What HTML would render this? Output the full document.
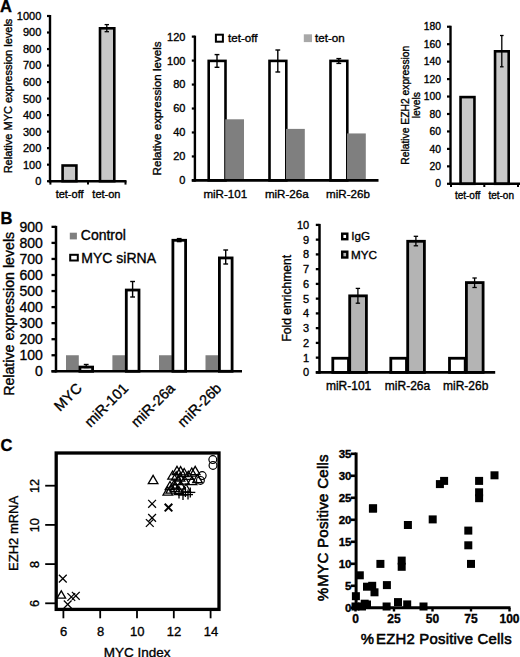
<!DOCTYPE html>
<html><head><meta charset="utf-8"><style>
html,body{margin:0;padding:0;background:#fff;width:520px;height:657px;overflow:hidden}
svg{display:block;font-family:"Liberation Sans", sans-serif}
</style></head><body>
<svg width="520" height="657" viewBox="0 0 520 657">
<rect width="520" height="657" fill="#fff"/>
<text x="0.00" y="12.30" font-size="16.5" text-anchor="start" font-weight="bold" stroke="#000" stroke-width="0.35" fill="#000">A</text>
<text x="0.50" y="223.60" font-size="16.5" text-anchor="start" font-weight="bold" stroke="#000" stroke-width="0.35" fill="#000">B</text>
<text x="0.50" y="450.60" font-size="16.5" text-anchor="start" font-weight="bold" stroke="#000" stroke-width="0.35" fill="#000">C</text>
<line x1="47.00" y1="181.20" x2="50.00" y2="181.20" stroke="#000" stroke-width="2.2"/>
<text x="41.30" y="185.10" font-size="11" text-anchor="end" font-weight="normal" stroke="#000" stroke-width="0.35" fill="#000">0</text>
<line x1="47.00" y1="164.68" x2="50.00" y2="164.68" stroke="#000" stroke-width="2.2"/>
<text x="41.30" y="168.58" font-size="11" text-anchor="end" font-weight="normal" stroke="#000" stroke-width="0.35" fill="#000">100</text>
<line x1="47.00" y1="148.16" x2="50.00" y2="148.16" stroke="#000" stroke-width="2.2"/>
<text x="41.30" y="152.06" font-size="11" text-anchor="end" font-weight="normal" stroke="#000" stroke-width="0.35" fill="#000">200</text>
<line x1="47.00" y1="131.64" x2="50.00" y2="131.64" stroke="#000" stroke-width="2.2"/>
<text x="41.30" y="135.54" font-size="11" text-anchor="end" font-weight="normal" stroke="#000" stroke-width="0.35" fill="#000">300</text>
<line x1="47.00" y1="115.12" x2="50.00" y2="115.12" stroke="#000" stroke-width="2.2"/>
<text x="41.30" y="119.02" font-size="11" text-anchor="end" font-weight="normal" stroke="#000" stroke-width="0.35" fill="#000">400</text>
<line x1="47.00" y1="98.60" x2="50.00" y2="98.60" stroke="#000" stroke-width="2.2"/>
<text x="41.30" y="102.50" font-size="11" text-anchor="end" font-weight="normal" stroke="#000" stroke-width="0.35" fill="#000">500</text>
<line x1="47.00" y1="82.08" x2="50.00" y2="82.08" stroke="#000" stroke-width="2.2"/>
<text x="41.30" y="85.98" font-size="11" text-anchor="end" font-weight="normal" stroke="#000" stroke-width="0.35" fill="#000">600</text>
<line x1="47.00" y1="65.56" x2="50.00" y2="65.56" stroke="#000" stroke-width="2.2"/>
<text x="41.30" y="69.46" font-size="11" text-anchor="end" font-weight="normal" stroke="#000" stroke-width="0.35" fill="#000">700</text>
<line x1="47.00" y1="49.04" x2="50.00" y2="49.04" stroke="#000" stroke-width="2.2"/>
<text x="41.30" y="52.94" font-size="11" text-anchor="end" font-weight="normal" stroke="#000" stroke-width="0.35" fill="#000">800</text>
<line x1="47.00" y1="32.52" x2="50.00" y2="32.52" stroke="#000" stroke-width="2.2"/>
<text x="41.30" y="36.42" font-size="11" text-anchor="end" font-weight="normal" stroke="#000" stroke-width="0.35" fill="#000">900</text>
<line x1="47.00" y1="16.00" x2="50.00" y2="16.00" stroke="#000" stroke-width="2.2"/>
<text x="41.30" y="19.90" font-size="11" text-anchor="end" font-weight="normal" stroke="#000" stroke-width="0.35" fill="#000">1000</text>
<line x1="50.40" y1="181.20" x2="50.40" y2="184.60" stroke="#000" stroke-width="2.0"/>
<line x1="88.00" y1="181.20" x2="88.00" y2="184.60" stroke="#000" stroke-width="2.0"/>
<line x1="125.50" y1="181.20" x2="125.50" y2="184.60" stroke="#000" stroke-width="2.0"/>
<rect x="62.60" y="165.50" width="13.80" height="15.70" fill="#c8c8c8" stroke="#000" stroke-width="2.6"/>
<rect x="100.00" y="28.30" width="14.30" height="152.90" fill="#c8c8c8" stroke="#000" stroke-width="2.6"/>
<line x1="106.80" y1="24.60" x2="106.80" y2="31.70" stroke="#000" stroke-width="1.3"/>
<line x1="104.60" y1="24.60" x2="109.00" y2="24.60" stroke="#000" stroke-width="1.3"/>
<line x1="104.60" y1="31.70" x2="109.00" y2="31.70" stroke="#000" stroke-width="1.3"/>
<text x="69.60" y="197.60" font-size="11" text-anchor="middle" font-weight="normal" stroke="#000" stroke-width="0.35" fill="#000">tet-off</text>
<text x="106.40" y="197.60" font-size="11" text-anchor="middle" font-weight="normal" stroke="#000" stroke-width="0.35" fill="#000">tet-on</text>
<text x="12.20" y="96.00" font-size="11" text-anchor="middle" font-weight="normal" transform="rotate(-90 12.20 96.00)" stroke="#000" stroke-width="0.35" fill="#000">Relative MYC expression levels</text>
<line x1="191.80" y1="180.40" x2="194.90" y2="180.40" stroke="#000" stroke-width="2.2"/>
<text x="185.40" y="184.30" font-size="11" text-anchor="end" font-weight="normal" stroke="#000" stroke-width="0.35" fill="#000">0</text>
<line x1="191.80" y1="156.44" x2="194.90" y2="156.44" stroke="#000" stroke-width="2.2"/>
<text x="185.40" y="160.34" font-size="11" text-anchor="end" font-weight="normal" stroke="#000" stroke-width="0.35" fill="#000">20</text>
<line x1="191.80" y1="132.48" x2="194.90" y2="132.48" stroke="#000" stroke-width="2.2"/>
<text x="185.40" y="136.38" font-size="11" text-anchor="end" font-weight="normal" stroke="#000" stroke-width="0.35" fill="#000">40</text>
<line x1="191.80" y1="108.52" x2="194.90" y2="108.52" stroke="#000" stroke-width="2.2"/>
<text x="185.40" y="112.42" font-size="11" text-anchor="end" font-weight="normal" stroke="#000" stroke-width="0.35" fill="#000">60</text>
<line x1="191.80" y1="84.56" x2="194.90" y2="84.56" stroke="#000" stroke-width="2.2"/>
<text x="185.40" y="88.46" font-size="11" text-anchor="end" font-weight="normal" stroke="#000" stroke-width="0.35" fill="#000">80</text>
<line x1="191.80" y1="60.60" x2="194.90" y2="60.60" stroke="#000" stroke-width="2.2"/>
<text x="185.40" y="64.50" font-size="11" text-anchor="end" font-weight="normal" stroke="#000" stroke-width="0.35" fill="#000">100</text>
<line x1="191.80" y1="36.64" x2="194.90" y2="36.64" stroke="#000" stroke-width="2.2"/>
<text x="185.40" y="40.54" font-size="11" text-anchor="end" font-weight="normal" stroke="#000" stroke-width="0.35" fill="#000">120</text>
<rect x="208.70" y="60.90" width="16.80" height="119.50" fill="#fff" stroke="#000" stroke-width="2.6"/>
<rect x="225.20" y="119.30" width="18.80" height="61.10" fill="#7f7f7f"/>
<line x1="217.00" y1="54.60" x2="217.00" y2="67.30" stroke="#000" stroke-width="1.4"/>
<line x1="214.60" y1="54.60" x2="219.40" y2="54.60" stroke="#000" stroke-width="1.4"/>
<line x1="214.60" y1="67.30" x2="219.40" y2="67.30" stroke="#000" stroke-width="1.4"/>
<rect x="269.50" y="60.90" width="16.80" height="119.50" fill="#fff" stroke="#000" stroke-width="2.6"/>
<rect x="286.00" y="128.89" width="18.80" height="51.51" fill="#7f7f7f"/>
<line x1="277.80" y1="50.00" x2="277.80" y2="72.00" stroke="#000" stroke-width="1.4"/>
<line x1="275.40" y1="50.00" x2="280.20" y2="50.00" stroke="#000" stroke-width="1.4"/>
<line x1="275.40" y1="72.00" x2="280.20" y2="72.00" stroke="#000" stroke-width="1.4"/>
<rect x="330.50" y="60.90" width="16.80" height="119.50" fill="#fff" stroke="#000" stroke-width="2.6"/>
<rect x="347.00" y="133.44" width="18.80" height="46.96" fill="#7f7f7f"/>
<line x1="338.80" y1="58.60" x2="338.80" y2="63.40" stroke="#000" stroke-width="1.4"/>
<line x1="336.40" y1="58.60" x2="341.20" y2="58.60" stroke="#000" stroke-width="1.4"/>
<line x1="336.40" y1="63.40" x2="341.20" y2="63.40" stroke="#000" stroke-width="1.4"/>
<text x="225.30" y="197.50" font-size="11.6" text-anchor="middle" font-weight="normal" stroke="#000" stroke-width="0.35" fill="#000">miR-101</text>
<text x="286.80" y="197.50" font-size="11.6" text-anchor="middle" font-weight="normal" stroke="#000" stroke-width="0.35" fill="#000">miR-26a</text>
<text x="348.00" y="197.50" font-size="11.6" text-anchor="middle" font-weight="normal" stroke="#000" stroke-width="0.35" fill="#000">miR-26b</text>
<rect x="215.90" y="34.70" width="7.00" height="7.00" fill="#fff" stroke="#000" stroke-width="2.0"/>
<text x="228.00" y="42.30" font-size="11.6" text-anchor="start" font-weight="normal" stroke="#000" stroke-width="0.35" fill="#000">tet-off</text>
<rect x="303.80" y="34.30" width="8.20" height="7.80" fill="#a8a8a8"/>
<text x="315.00" y="42.30" font-size="11.6" text-anchor="start" font-weight="normal" stroke="#000" stroke-width="0.35" fill="#000">tet-on</text>
<text x="161.40" y="108.40" font-size="11.6" text-anchor="middle" font-weight="normal" transform="rotate(-90 161.40 108.40)" stroke="#000" stroke-width="0.35" fill="#000">Relative expression levels</text>
<line x1="447.00" y1="183.80" x2="450.50" y2="183.80" stroke="#000" stroke-width="2.2"/>
<text x="441.00" y="187.40" font-size="10.3" text-anchor="end" font-weight="normal" stroke="#000" stroke-width="0.35" fill="#000">0</text>
<line x1="447.00" y1="166.35" x2="450.50" y2="166.35" stroke="#000" stroke-width="2.2"/>
<text x="441.00" y="169.95" font-size="10.3" text-anchor="end" font-weight="normal" stroke="#000" stroke-width="0.35" fill="#000">20</text>
<line x1="447.00" y1="148.90" x2="450.50" y2="148.90" stroke="#000" stroke-width="2.2"/>
<text x="441.00" y="152.50" font-size="10.3" text-anchor="end" font-weight="normal" stroke="#000" stroke-width="0.35" fill="#000">40</text>
<line x1="447.00" y1="131.45" x2="450.50" y2="131.45" stroke="#000" stroke-width="2.2"/>
<text x="441.00" y="135.05" font-size="10.3" text-anchor="end" font-weight="normal" stroke="#000" stroke-width="0.35" fill="#000">60</text>
<line x1="447.00" y1="114.00" x2="450.50" y2="114.00" stroke="#000" stroke-width="2.2"/>
<text x="441.00" y="117.60" font-size="10.3" text-anchor="end" font-weight="normal" stroke="#000" stroke-width="0.35" fill="#000">80</text>
<line x1="447.00" y1="96.55" x2="450.50" y2="96.55" stroke="#000" stroke-width="2.2"/>
<text x="441.00" y="100.15" font-size="10.3" text-anchor="end" font-weight="normal" stroke="#000" stroke-width="0.35" fill="#000">100</text>
<line x1="447.00" y1="79.10" x2="450.50" y2="79.10" stroke="#000" stroke-width="2.2"/>
<text x="441.00" y="82.70" font-size="10.3" text-anchor="end" font-weight="normal" stroke="#000" stroke-width="0.35" fill="#000">120</text>
<line x1="447.00" y1="61.65" x2="450.50" y2="61.65" stroke="#000" stroke-width="2.2"/>
<text x="441.00" y="65.25" font-size="10.3" text-anchor="end" font-weight="normal" stroke="#000" stroke-width="0.35" fill="#000">140</text>
<line x1="447.00" y1="44.20" x2="450.50" y2="44.20" stroke="#000" stroke-width="2.2"/>
<text x="441.00" y="47.80" font-size="10.3" text-anchor="end" font-weight="normal" stroke="#000" stroke-width="0.35" fill="#000">160</text>
<line x1="447.00" y1="26.75" x2="450.50" y2="26.75" stroke="#000" stroke-width="2.2"/>
<text x="441.00" y="30.35" font-size="10.3" text-anchor="end" font-weight="normal" stroke="#000" stroke-width="0.35" fill="#000">180</text>
<line x1="451.00" y1="183.80" x2="451.00" y2="187.00" stroke="#000" stroke-width="2.0"/>
<line x1="484.30" y1="183.80" x2="484.30" y2="187.00" stroke="#000" stroke-width="2.0"/>
<line x1="518.00" y1="183.80" x2="518.00" y2="187.00" stroke="#000" stroke-width="2.0"/>
<rect x="460.55" y="97.10" width="13.90" height="86.70" fill="#c8c8c8" stroke="#000" stroke-width="2.6"/>
<rect x="495.05" y="51.30" width="13.65" height="132.50" fill="#c8c8c8" stroke="#000" stroke-width="2.6"/>
<line x1="501.80" y1="35.50" x2="501.80" y2="66.80" stroke="#000" stroke-width="1.3"/>
<line x1="500.00" y1="35.50" x2="503.60" y2="35.50" stroke="#000" stroke-width="1.3"/>
<line x1="500.00" y1="66.80" x2="503.60" y2="66.80" stroke="#000" stroke-width="1.3"/>
<text x="467.60" y="199.40" font-size="10" text-anchor="middle" font-weight="normal" stroke="#000" stroke-width="0.35" fill="#000">tet-off</text>
<text x="501.20" y="199.40" font-size="10" text-anchor="middle" font-weight="normal" stroke="#000" stroke-width="0.35" fill="#000">tet-on</text>
<text x="409.20" y="105.20" font-size="10.3" text-anchor="middle" font-weight="normal" transform="rotate(-90 409.20 105.20)" stroke="#000" stroke-width="0.35" fill="#000">Relative EZH2 expression</text>
<text x="419.70" y="105.20" font-size="10.3" text-anchor="middle" font-weight="normal" transform="rotate(-90 419.70 105.20)" stroke="#000" stroke-width="0.35" fill="#000">levels</text>
<line x1="51.50" y1="371.30" x2="56.00" y2="371.30" stroke="#000" stroke-width="2.3"/>
<text x="42.80" y="376.30" font-size="14" text-anchor="end" font-weight="normal" stroke="#000" stroke-width="0.35" fill="#000">0</text>
<line x1="51.50" y1="355.25" x2="56.00" y2="355.25" stroke="#000" stroke-width="2.3"/>
<text x="42.80" y="360.25" font-size="14" text-anchor="end" font-weight="normal" stroke="#000" stroke-width="0.35" fill="#000">100</text>
<line x1="51.50" y1="339.20" x2="56.00" y2="339.20" stroke="#000" stroke-width="2.3"/>
<text x="42.80" y="344.20" font-size="14" text-anchor="end" font-weight="normal" stroke="#000" stroke-width="0.35" fill="#000">200</text>
<line x1="51.50" y1="323.15" x2="56.00" y2="323.15" stroke="#000" stroke-width="2.3"/>
<text x="42.80" y="328.15" font-size="14" text-anchor="end" font-weight="normal" stroke="#000" stroke-width="0.35" fill="#000">300</text>
<line x1="51.50" y1="307.10" x2="56.00" y2="307.10" stroke="#000" stroke-width="2.3"/>
<text x="42.80" y="312.10" font-size="14" text-anchor="end" font-weight="normal" stroke="#000" stroke-width="0.35" fill="#000">400</text>
<line x1="51.50" y1="291.05" x2="56.00" y2="291.05" stroke="#000" stroke-width="2.3"/>
<text x="42.80" y="296.05" font-size="14" text-anchor="end" font-weight="normal" stroke="#000" stroke-width="0.35" fill="#000">500</text>
<line x1="51.50" y1="275.00" x2="56.00" y2="275.00" stroke="#000" stroke-width="2.3"/>
<text x="42.80" y="280.00" font-size="14" text-anchor="end" font-weight="normal" stroke="#000" stroke-width="0.35" fill="#000">600</text>
<line x1="51.50" y1="258.95" x2="56.00" y2="258.95" stroke="#000" stroke-width="2.3"/>
<text x="42.80" y="263.95" font-size="14" text-anchor="end" font-weight="normal" stroke="#000" stroke-width="0.35" fill="#000">700</text>
<line x1="51.50" y1="242.90" x2="56.00" y2="242.90" stroke="#000" stroke-width="2.3"/>
<text x="42.80" y="247.90" font-size="14" text-anchor="end" font-weight="normal" stroke="#000" stroke-width="0.35" fill="#000">800</text>
<line x1="51.50" y1="226.85" x2="56.00" y2="226.85" stroke="#000" stroke-width="2.3"/>
<text x="42.80" y="231.85" font-size="14" text-anchor="end" font-weight="normal" stroke="#000" stroke-width="0.35" fill="#000">900</text>
<rect x="66.00" y="355.25" width="12.80" height="16.05" fill="#7f7f7f"/>
<rect x="79.90" y="367.08" width="12.70" height="4.22" fill="#fff" stroke="#000" stroke-width="2.8"/>
<line x1="86.20" y1="364.50" x2="86.20" y2="367.50" stroke="#000" stroke-width="1.4"/>
<line x1="83.80" y1="364.50" x2="88.60" y2="364.50" stroke="#000" stroke-width="1.4"/>
<line x1="83.80" y1="367.50" x2="88.60" y2="367.50" stroke="#000" stroke-width="1.4"/>
<rect x="112.40" y="355.25" width="12.80" height="16.05" fill="#7f7f7f"/>
<rect x="126.30" y="290.04" width="12.70" height="81.26" fill="#fff" stroke="#000" stroke-width="2.8"/>
<line x1="132.60" y1="281.50" x2="132.60" y2="297.00" stroke="#000" stroke-width="1.4"/>
<line x1="130.20" y1="281.50" x2="135.00" y2="281.50" stroke="#000" stroke-width="1.4"/>
<line x1="130.20" y1="297.00" x2="135.00" y2="297.00" stroke="#000" stroke-width="1.4"/>
<rect x="159.00" y="355.25" width="12.80" height="16.05" fill="#7f7f7f"/>
<rect x="172.90" y="240.29" width="12.70" height="131.01" fill="#fff" stroke="#000" stroke-width="2.8"/>
<line x1="179.20" y1="238.60" x2="179.20" y2="241.60" stroke="#000" stroke-width="1.4"/>
<line x1="176.80" y1="238.60" x2="181.60" y2="238.60" stroke="#000" stroke-width="1.4"/>
<line x1="176.80" y1="241.60" x2="181.60" y2="241.60" stroke="#000" stroke-width="1.4"/>
<rect x="205.50" y="355.25" width="12.80" height="16.05" fill="#7f7f7f"/>
<rect x="219.40" y="257.94" width="12.70" height="113.35" fill="#fff" stroke="#000" stroke-width="2.8"/>
<line x1="225.70" y1="250.00" x2="225.70" y2="264.00" stroke="#000" stroke-width="1.4"/>
<line x1="223.30" y1="250.00" x2="228.10" y2="250.00" stroke="#000" stroke-width="1.4"/>
<line x1="223.30" y1="264.00" x2="228.10" y2="264.00" stroke="#000" stroke-width="1.4"/>
<rect x="69.80" y="232.70" width="7.10" height="6.70" fill="#7f7f7f"/>
<text x="80.80" y="240.40" font-size="14" text-anchor="start" font-weight="normal" stroke="#000" stroke-width="0.35" fill="#000">Control</text>
<rect x="70.20" y="254.80" width="7.60" height="5.70" fill="#fff" stroke="#000" stroke-width="2"/>
<text x="81.30" y="262.50" font-size="14" text-anchor="start" font-weight="normal" stroke="#000" stroke-width="0.35" fill="#000">MYC siRNA</text>
<text x="82.80" y="389.20" font-size="14.5" text-anchor="end" font-weight="normal" transform="rotate(-45 82.80 389.20)" stroke="#000" stroke-width="0.35" fill="#000">MYC</text>
<text x="129.20" y="389.20" font-size="14.5" text-anchor="end" font-weight="normal" transform="rotate(-45 129.20 389.20)" stroke="#000" stroke-width="0.35" fill="#000">miR-101</text>
<text x="175.80" y="389.20" font-size="14.5" text-anchor="end" font-weight="normal" transform="rotate(-45 175.80 389.20)" stroke="#000" stroke-width="0.35" fill="#000">miR-26a</text>
<text x="222.30" y="389.20" font-size="14.5" text-anchor="end" font-weight="normal" transform="rotate(-45 222.30 389.20)" stroke="#000" stroke-width="0.35" fill="#000">miR-26b</text>
<text x="13.60" y="313.80" font-size="14.2" text-anchor="middle" font-weight="normal" transform="rotate(-90 13.60 313.80)" stroke="#000" stroke-width="0.35" fill="#000">Relative expression levels</text>
<line x1="315.80" y1="372.40" x2="319.50" y2="372.40" stroke="#000" stroke-width="2.3"/>
<text x="309.20" y="376.30" font-size="11" text-anchor="end" font-weight="normal" stroke="#000" stroke-width="0.35" fill="#000">0</text>
<line x1="315.80" y1="357.65" x2="319.50" y2="357.65" stroke="#000" stroke-width="2.3"/>
<text x="309.20" y="361.55" font-size="11" text-anchor="end" font-weight="normal" stroke="#000" stroke-width="0.35" fill="#000">1</text>
<line x1="315.80" y1="342.90" x2="319.50" y2="342.90" stroke="#000" stroke-width="2.3"/>
<text x="309.20" y="346.80" font-size="11" text-anchor="end" font-weight="normal" stroke="#000" stroke-width="0.35" fill="#000">2</text>
<line x1="315.80" y1="328.15" x2="319.50" y2="328.15" stroke="#000" stroke-width="2.3"/>
<text x="309.20" y="332.05" font-size="11" text-anchor="end" font-weight="normal" stroke="#000" stroke-width="0.35" fill="#000">3</text>
<line x1="315.80" y1="313.40" x2="319.50" y2="313.40" stroke="#000" stroke-width="2.3"/>
<text x="309.20" y="317.30" font-size="11" text-anchor="end" font-weight="normal" stroke="#000" stroke-width="0.35" fill="#000">4</text>
<line x1="315.80" y1="298.65" x2="319.50" y2="298.65" stroke="#000" stroke-width="2.3"/>
<text x="309.20" y="302.55" font-size="11" text-anchor="end" font-weight="normal" stroke="#000" stroke-width="0.35" fill="#000">5</text>
<line x1="315.80" y1="283.90" x2="319.50" y2="283.90" stroke="#000" stroke-width="2.3"/>
<text x="309.20" y="287.80" font-size="11" text-anchor="end" font-weight="normal" stroke="#000" stroke-width="0.35" fill="#000">6</text>
<line x1="315.80" y1="269.15" x2="319.50" y2="269.15" stroke="#000" stroke-width="2.3"/>
<text x="309.20" y="273.05" font-size="11" text-anchor="end" font-weight="normal" stroke="#000" stroke-width="0.35" fill="#000">7</text>
<line x1="315.80" y1="254.40" x2="319.50" y2="254.40" stroke="#000" stroke-width="2.3"/>
<text x="309.20" y="258.30" font-size="11" text-anchor="end" font-weight="normal" stroke="#000" stroke-width="0.35" fill="#000">8</text>
<line x1="315.80" y1="239.65" x2="319.50" y2="239.65" stroke="#000" stroke-width="2.3"/>
<text x="309.20" y="243.55" font-size="11" text-anchor="end" font-weight="normal" stroke="#000" stroke-width="0.35" fill="#000">9</text>
<line x1="315.80" y1="224.90" x2="319.50" y2="224.90" stroke="#000" stroke-width="2.3"/>
<text x="309.20" y="228.80" font-size="11" text-anchor="end" font-weight="normal" stroke="#000" stroke-width="0.35" fill="#000">10</text>
<rect x="332.80" y="358.25" width="15.70" height="14.15" fill="#fff" stroke="#000" stroke-width="2.8"/>
<rect x="349.70" y="295.86" width="16.70" height="76.54" fill="#b4b4b4" stroke="#000" stroke-width="2.8"/>
<line x1="357.90" y1="288.40" x2="357.90" y2="303.20" stroke="#000" stroke-width="1.3"/>
<line x1="355.70" y1="288.40" x2="360.10" y2="288.40" stroke="#000" stroke-width="1.3"/>
<line x1="355.70" y1="303.20" x2="360.10" y2="303.20" stroke="#000" stroke-width="1.3"/>
<rect x="390.80" y="358.25" width="15.70" height="14.15" fill="#fff" stroke="#000" stroke-width="2.8"/>
<rect x="407.70" y="241.29" width="16.70" height="131.11" fill="#b4b4b4" stroke="#000" stroke-width="2.8"/>
<line x1="415.90" y1="236.30" x2="415.90" y2="245.80" stroke="#000" stroke-width="1.3"/>
<line x1="413.70" y1="236.30" x2="418.10" y2="236.30" stroke="#000" stroke-width="1.3"/>
<line x1="413.70" y1="245.80" x2="418.10" y2="245.80" stroke="#000" stroke-width="1.3"/>
<rect x="449.50" y="358.25" width="15.70" height="14.15" fill="#fff" stroke="#000" stroke-width="2.8"/>
<rect x="466.40" y="282.59" width="16.70" height="89.81" fill="#b4b4b4" stroke="#000" stroke-width="2.8"/>
<line x1="474.60" y1="278.00" x2="474.60" y2="287.50" stroke="#000" stroke-width="1.3"/>
<line x1="472.40" y1="278.00" x2="476.80" y2="278.00" stroke="#000" stroke-width="1.3"/>
<line x1="472.40" y1="287.50" x2="476.80" y2="287.50" stroke="#000" stroke-width="1.3"/>
<rect x="342.20" y="233.70" width="5.10" height="5.50" fill="#fff" stroke="#000" stroke-width="2.4"/>
<text x="351.30" y="240.40" font-size="11.7" text-anchor="start" font-weight="normal" stroke="#000" stroke-width="0.35" fill="#000">IgG</text>
<rect x="342.20" y="251.70" width="5.10" height="5.80" fill="#b4b4b4" stroke="#000" stroke-width="2.4"/>
<text x="350.90" y="258.80" font-size="11.7" text-anchor="start" font-weight="normal" stroke="#000" stroke-width="0.35" fill="#000">MYC</text>
<text x="348.60" y="390.00" font-size="12" text-anchor="middle" font-weight="normal" stroke="#000" stroke-width="0.35" fill="#000">miR-101</text>
<text x="407.50" y="390.00" font-size="12" text-anchor="middle" font-weight="normal" stroke="#000" stroke-width="0.35" fill="#000">miR-26a</text>
<text x="465.70" y="390.00" font-size="12" text-anchor="middle" font-weight="normal" stroke="#000" stroke-width="0.35" fill="#000">miR-26b</text>
<text x="291.00" y="298.20" font-size="12.1" text-anchor="middle" font-weight="normal" transform="rotate(-90 291.00 298.20)" stroke="#000" stroke-width="0.35" fill="#000">Fold enrichment</text>
<rect x="56.2" y="453.0" width="162.8" height="156.39999999999998" fill="none" stroke="#000" stroke-width="3.3"/>
<line x1="45.20" y1="603.30" x2="56.20" y2="603.30" stroke="#000" stroke-width="1.8"/>
<text x="39.00" y="603.60" font-size="12.6" text-anchor="middle" font-weight="normal" transform="rotate(-90 39.00 603.60)" stroke="#000" stroke-width="0.35" fill="#000">6</text>
<line x1="45.20" y1="564.10" x2="56.20" y2="564.10" stroke="#000" stroke-width="1.8"/>
<text x="39.00" y="564.40" font-size="12.6" text-anchor="middle" font-weight="normal" transform="rotate(-90 39.00 564.40)" stroke="#000" stroke-width="0.35" fill="#000">8</text>
<line x1="45.20" y1="524.90" x2="56.20" y2="524.90" stroke="#000" stroke-width="1.8"/>
<text x="39.00" y="525.20" font-size="12.6" text-anchor="middle" font-weight="normal" transform="rotate(-90 39.00 525.20)" stroke="#000" stroke-width="0.35" fill="#000">10</text>
<line x1="45.20" y1="485.70" x2="56.20" y2="485.70" stroke="#000" stroke-width="1.8"/>
<text x="39.00" y="486.00" font-size="12.6" text-anchor="middle" font-weight="normal" transform="rotate(-90 39.00 486.00)" stroke="#000" stroke-width="0.35" fill="#000">12</text>
<line x1="63.40" y1="609.40" x2="63.40" y2="618.30" stroke="#000" stroke-width="1.8"/>
<text x="63.70" y="635.80" font-size="13" text-anchor="middle" font-weight="normal" stroke="#000" stroke-width="0.35" fill="#000">6</text>
<line x1="100.20" y1="609.40" x2="100.20" y2="618.30" stroke="#000" stroke-width="1.8"/>
<text x="100.50" y="635.80" font-size="13" text-anchor="middle" font-weight="normal" stroke="#000" stroke-width="0.35" fill="#000">8</text>
<line x1="137.00" y1="609.40" x2="137.00" y2="618.30" stroke="#000" stroke-width="1.8"/>
<text x="137.30" y="635.80" font-size="13" text-anchor="middle" font-weight="normal" stroke="#000" stroke-width="0.35" fill="#000">10</text>
<line x1="173.80" y1="609.40" x2="173.80" y2="618.30" stroke="#000" stroke-width="1.8"/>
<text x="174.10" y="635.80" font-size="13" text-anchor="middle" font-weight="normal" stroke="#000" stroke-width="0.35" fill="#000">12</text>
<line x1="210.60" y1="609.40" x2="210.60" y2="618.30" stroke="#000" stroke-width="1.8"/>
<text x="210.90" y="635.80" font-size="13" text-anchor="middle" font-weight="normal" stroke="#000" stroke-width="0.35" fill="#000">14</text>
<text x="137.10" y="656.90" font-size="13.5" text-anchor="middle" font-weight="normal" stroke="#000" stroke-width="0.35" fill="#000">MYC Index</text>
<text x="18.30" y="533.40" font-size="13" text-anchor="middle" font-weight="normal" transform="rotate(-90 18.30 533.40)" stroke="#000" stroke-width="0.35" fill="#000">EZH2 mRNA</text>
<line x1="58.90" y1="574.70" x2="66.70" y2="582.50" stroke="#000" stroke-width="1.25"/>
<line x1="58.90" y1="582.50" x2="66.70" y2="574.70" stroke="#000" stroke-width="1.25"/>
<path d="M61.30,590.80 L65.60,598.20 L57.00,598.20 Z" fill="none" stroke="#000" stroke-width="1.3" stroke-linejoin="miter"/>
<line x1="63.80" y1="600.50" x2="71.60" y2="608.30" stroke="#000" stroke-width="1.25"/>
<line x1="63.80" y1="608.30" x2="71.60" y2="600.50" stroke="#000" stroke-width="1.25"/>
<line x1="67.40" y1="593.10" x2="75.20" y2="600.90" stroke="#000" stroke-width="1.25"/>
<line x1="67.40" y1="600.90" x2="75.20" y2="593.10" stroke="#000" stroke-width="1.25"/>
<line x1="71.90" y1="591.90" x2="79.70" y2="599.70" stroke="#000" stroke-width="1.25"/>
<line x1="71.90" y1="599.70" x2="79.70" y2="591.90" stroke="#000" stroke-width="1.25"/>
<line x1="148.20" y1="499.90" x2="156.00" y2="507.70" stroke="#000" stroke-width="1.25"/>
<line x1="148.20" y1="507.70" x2="156.00" y2="499.90" stroke="#000" stroke-width="1.25"/>
<line x1="164.70" y1="503.80" x2="172.30" y2="511.40" stroke="#000" stroke-width="2.0"/>
<line x1="164.70" y1="511.40" x2="172.30" y2="503.80" stroke="#000" stroke-width="2.0"/>
<line x1="148.20" y1="514.00" x2="156.00" y2="521.80" stroke="#000" stroke-width="1.25"/>
<line x1="148.20" y1="521.80" x2="156.00" y2="514.00" stroke="#000" stroke-width="1.25"/>
<line x1="145.90" y1="519.10" x2="153.70" y2="526.90" stroke="#000" stroke-width="1.25"/>
<line x1="145.90" y1="526.90" x2="153.70" y2="519.10" stroke="#000" stroke-width="1.25"/>
<path d="M153.10,475.40 L157.90,483.60 L148.30,483.60 Z" fill="none" stroke="#000" stroke-width="1.3" stroke-linejoin="miter"/>
<circle cx="212.80" cy="459.60" r="3.9" fill="none" stroke="#000" stroke-width="1.2"/>
<circle cx="213.00" cy="465.40" r="3.9" fill="none" stroke="#000" stroke-width="1.2"/>
<circle cx="202.20" cy="475.60" r="3.9" fill="none" stroke="#000" stroke-width="1.2"/>
<circle cx="200.40" cy="480.40" r="3.9" fill="none" stroke="#000" stroke-width="1.2"/>
<path d="M177.00,466.30 L181.80,474.50 L172.20,474.50 Z" fill="none" stroke="#000" stroke-width="1.3" stroke-linejoin="miter"/>
<path d="M180.60,466.60 L185.40,474.80 L175.80,474.80 Z" fill="none" stroke="#000" stroke-width="1.3" stroke-linejoin="miter"/>
<path d="M195.20,466.40 L200.00,474.60 L190.40,474.60 Z" fill="none" stroke="#000" stroke-width="1.3" stroke-linejoin="miter"/>
<path d="M191.80,468.00 L196.60,476.20 L187.00,476.20 Z" fill="none" stroke="#000" stroke-width="1.3" stroke-linejoin="miter"/>
<path d="M184.20,468.50 L189.00,476.70 L179.40,476.70 Z" fill="none" stroke="#000" stroke-width="1.3" stroke-linejoin="miter"/>
<path d="M172.60,471.00 L177.40,479.20 L167.80,479.20 Z" fill="none" stroke="#000" stroke-width="1.3" stroke-linejoin="miter"/>
<path d="M176.20,471.80 L181.00,480.00 L171.40,480.00 Z" fill="none" stroke="#000" stroke-width="1.3" stroke-linejoin="miter"/>
<path d="M188.20,471.20 L193.00,479.40 L183.40,479.40 Z" fill="none" stroke="#000" stroke-width="1.3" stroke-linejoin="miter"/>
<path d="M180.00,473.00 L184.80,481.20 L175.20,481.20 Z" fill="none" stroke="#000" stroke-width="1.3" stroke-linejoin="miter"/>
<path d="M184.60,476.00 L189.40,484.20 L179.80,484.20 Z" fill="none" stroke="#000" stroke-width="1.3" stroke-linejoin="miter"/>
<path d="M178.00,476.50 L182.80,484.70 L173.20,484.70 Z" fill="none" stroke="#000" stroke-width="1.3" stroke-linejoin="miter"/>
<path d="M197.50,474.50 L202.30,482.70 L192.70,482.70 Z" fill="none" stroke="#000" stroke-width="1.3" stroke-linejoin="miter"/>
<path d="M192.00,476.50 L196.80,484.70 L187.20,484.70 Z" fill="none" stroke="#000" stroke-width="1.3" stroke-linejoin="miter"/>
<path d="M174.20,480.00 L179.00,488.20 L169.40,488.20 Z" fill="none" stroke="#000" stroke-width="1.3" stroke-linejoin="miter"/>
<path d="M170.00,481.50 L174.80,489.70 L165.20,489.70 Z" fill="none" stroke="#000" stroke-width="1.3" stroke-linejoin="miter"/>
<path d="M180.50,481.00 L185.30,489.20 L175.70,489.20 Z" fill="none" stroke="#000" stroke-width="1.3" stroke-linejoin="miter"/>
<path d="M175.00,483.40 L179.80,491.60 L170.20,491.60 Z" fill="none" stroke="#000" stroke-width="1.3" stroke-linejoin="miter"/>
<path d="M170.80,485.00 L175.60,493.20 L166.00,493.20 Z" fill="none" stroke="#000" stroke-width="1.3" stroke-linejoin="miter"/>
<path d="M167.80,487.00 L172.60,495.20 L163.00,495.20 Z" fill="none" stroke="#000" stroke-width="1.3" stroke-linejoin="miter"/>
<path d="M186.00,484.00 L190.80,492.20 L181.20,492.20 Z" fill="none" stroke="#000" stroke-width="1.3" stroke-linejoin="miter"/>
<path d="M179.00,486.50 L183.80,494.70 L174.20,494.70 Z" fill="none" stroke="#000" stroke-width="1.3" stroke-linejoin="miter"/>
<line x1="180.40" y1="492.00" x2="190.40" y2="492.00" stroke="#000" stroke-width="1.3"/>
<line x1="185.40" y1="487.00" x2="185.40" y2="497.00" stroke="#000" stroke-width="1.3"/>
<line x1="185.30" y1="492.40" x2="195.30" y2="492.40" stroke="#000" stroke-width="1.3"/>
<line x1="190.30" y1="487.40" x2="190.30" y2="497.40" stroke="#000" stroke-width="1.3"/>
<line x1="178.00" y1="495.00" x2="188.00" y2="495.00" stroke="#000" stroke-width="1.3"/>
<line x1="183.00" y1="490.00" x2="183.00" y2="500.00" stroke="#000" stroke-width="1.3"/>
<line x1="183.00" y1="494.60" x2="193.00" y2="494.60" stroke="#000" stroke-width="1.3"/>
<line x1="188.00" y1="489.60" x2="188.00" y2="499.60" stroke="#000" stroke-width="1.3"/>
<line x1="174.00" y1="493.50" x2="184.00" y2="493.50" stroke="#000" stroke-width="1.3"/>
<line x1="179.00" y1="488.50" x2="179.00" y2="498.50" stroke="#000" stroke-width="1.3"/>
<line x1="350.80" y1="607.80" x2="356.10" y2="607.80" stroke="#000" stroke-width="2.6"/>
<text x="351.50" y="611.80" font-size="11.5" text-anchor="end" font-weight="bold" stroke="#000" stroke-width="0.35" fill="#000">0</text>
<line x1="350.80" y1="585.80" x2="356.10" y2="585.80" stroke="#000" stroke-width="2.6"/>
<text x="351.50" y="589.80" font-size="11.5" text-anchor="end" font-weight="bold" stroke="#000" stroke-width="0.35" fill="#000">5</text>
<line x1="350.80" y1="563.80" x2="356.10" y2="563.80" stroke="#000" stroke-width="2.6"/>
<text x="351.50" y="567.80" font-size="11.5" text-anchor="end" font-weight="bold" stroke="#000" stroke-width="0.35" fill="#000">10</text>
<line x1="350.80" y1="541.80" x2="356.10" y2="541.80" stroke="#000" stroke-width="2.6"/>
<text x="351.50" y="545.80" font-size="11.5" text-anchor="end" font-weight="bold" stroke="#000" stroke-width="0.35" fill="#000">15</text>
<line x1="350.80" y1="519.80" x2="356.10" y2="519.80" stroke="#000" stroke-width="2.6"/>
<text x="351.50" y="523.80" font-size="11.5" text-anchor="end" font-weight="bold" stroke="#000" stroke-width="0.35" fill="#000">20</text>
<line x1="350.80" y1="497.80" x2="356.10" y2="497.80" stroke="#000" stroke-width="2.6"/>
<text x="351.50" y="501.80" font-size="11.5" text-anchor="end" font-weight="bold" stroke="#000" stroke-width="0.35" fill="#000">25</text>
<line x1="350.80" y1="475.80" x2="356.10" y2="475.80" stroke="#000" stroke-width="2.6"/>
<text x="351.50" y="479.80" font-size="11.5" text-anchor="end" font-weight="bold" stroke="#000" stroke-width="0.35" fill="#000">30</text>
<line x1="350.80" y1="453.80" x2="356.10" y2="453.80" stroke="#000" stroke-width="2.6"/>
<text x="351.50" y="457.80" font-size="11.5" text-anchor="end" font-weight="bold" stroke="#000" stroke-width="0.35" fill="#000">35</text>
<line x1="354.60" y1="607.80" x2="510.50" y2="607.80" stroke="#000" stroke-width="3.0"/>
<line x1="355.50" y1="607.80" x2="355.50" y2="611.50" stroke="#000" stroke-width="2.4"/>
<text x="355.50" y="622.90" font-size="12" text-anchor="middle" font-weight="bold" stroke="#000" stroke-width="0.35" fill="#000">0</text>
<line x1="394.00" y1="607.80" x2="394.00" y2="611.50" stroke="#000" stroke-width="2.4"/>
<text x="394.00" y="622.90" font-size="12" text-anchor="middle" font-weight="bold" stroke="#000" stroke-width="0.35" fill="#000">25</text>
<line x1="432.50" y1="607.80" x2="432.50" y2="611.50" stroke="#000" stroke-width="2.4"/>
<text x="432.50" y="622.90" font-size="12" text-anchor="middle" font-weight="bold" stroke="#000" stroke-width="0.35" fill="#000">50</text>
<line x1="471.00" y1="607.80" x2="471.00" y2="611.50" stroke="#000" stroke-width="2.4"/>
<text x="471.00" y="622.90" font-size="12" text-anchor="middle" font-weight="bold" stroke="#000" stroke-width="0.35" fill="#000">75</text>
<line x1="509.50" y1="607.80" x2="509.50" y2="611.50" stroke="#000" stroke-width="2.4"/>
<text x="509.50" y="622.90" font-size="12" text-anchor="middle" font-weight="bold" stroke="#000" stroke-width="0.35" fill="#000">100</text>
<text x="360.80" y="643.90" font-size="14.9" text-anchor="start" font-weight="normal" letter-spacing="0.22" stroke="#000" stroke-width="0.55" fill="#000">%<tspan dx="1.8">EZH2 Positive Cells</tspan></text>
<text x="327.60" y="601.20" font-size="15.1" text-anchor="start" font-weight="normal" transform="rotate(-90 327.60 601.20)" letter-spacing="0.24" stroke="#000" stroke-width="0.55" fill="#000">%<tspan dx="0.8">MYC Positive Cells</tspan></text>
<rect x="368.90" y="504.60" width="8.00" height="8.00" fill="#000"/>
<rect x="403.90" y="521.00" width="8.00" height="8.00" fill="#000"/>
<rect x="428.70" y="515.40" width="8.00" height="8.00" fill="#000"/>
<rect x="435.90" y="480.10" width="8.00" height="8.00" fill="#000"/>
<rect x="440.10" y="476.90" width="8.00" height="8.00" fill="#000"/>
<rect x="475.10" y="476.90" width="8.00" height="8.00" fill="#000"/>
<rect x="475.10" y="488.30" width="8.00" height="8.00" fill="#000"/>
<rect x="475.10" y="494.20" width="8.00" height="8.00" fill="#000"/>
<rect x="490.50" y="471.30" width="8.00" height="8.00" fill="#000"/>
<rect x="464.30" y="526.60" width="8.00" height="8.00" fill="#000"/>
<rect x="464.30" y="541.30" width="8.00" height="8.00" fill="#000"/>
<rect x="467.00" y="559.90" width="8.00" height="8.00" fill="#000"/>
<rect x="376.40" y="559.90" width="8.00" height="8.00" fill="#000"/>
<rect x="397.70" y="556.60" width="8.00" height="8.00" fill="#000"/>
<rect x="397.70" y="562.80" width="8.00" height="8.00" fill="#000"/>
<rect x="355.80" y="571.30" width="8.00" height="8.00" fill="#000"/>
<rect x="363.00" y="582.70" width="8.00" height="8.00" fill="#000"/>
<rect x="368.20" y="581.80" width="8.00" height="8.00" fill="#000"/>
<rect x="370.50" y="588.30" width="8.00" height="8.00" fill="#000"/>
<rect x="382.90" y="581.10" width="8.00" height="8.00" fill="#000"/>
<rect x="351.90" y="592.20" width="8.00" height="8.00" fill="#000"/>
<rect x="394.00" y="598.10" width="8.00" height="8.00" fill="#000"/>
<rect x="403.20" y="600.40" width="8.00" height="8.00" fill="#000"/>
<rect x="351.50" y="602.50" width="8.00" height="8.00" fill="#000"/>
<rect x="358.00" y="602.50" width="8.00" height="8.00" fill="#000"/>
<rect x="363.00" y="600.50" width="8.00" height="8.00" fill="#000"/>
<rect x="382.60" y="602.50" width="8.00" height="8.00" fill="#000"/>
<rect x="419.50" y="602.50" width="8.00" height="8.00" fill="#000"/>
<rect x="360.70" y="599.70" width="8.00" height="8.00" fill="#000"/>
<rect x="369.10" y="504.30" width="8.00" height="8.00" fill="#000"/>
<line x1="50.00" y1="15.00" x2="50.00" y2="182.40" stroke="#000" stroke-width="2.4"/>
<line x1="48.70" y1="181.20" x2="126.50" y2="181.20" stroke="#000" stroke-width="2.6"/>
<line x1="194.90" y1="35.64" x2="194.90" y2="181.60" stroke="#000" stroke-width="2.4"/>
<line x1="191.80" y1="180.40" x2="378.50" y2="180.40" stroke="#000" stroke-width="2.6"/>
<line x1="450.50" y1="25.75" x2="450.50" y2="185.00" stroke="#000" stroke-width="2.4"/>
<line x1="449.50" y1="183.80" x2="520.00" y2="183.80" stroke="#000" stroke-width="2.6"/>
<line x1="56.00" y1="225.85" x2="56.00" y2="372.50" stroke="#000" stroke-width="2.5"/>
<line x1="51.50" y1="371.30" x2="242.00" y2="371.30" stroke="#000" stroke-width="2.6"/>
<line x1="319.50" y1="223.90" x2="319.50" y2="373.60" stroke="#000" stroke-width="2.5"/>
<line x1="315.80" y1="372.40" x2="495.20" y2="372.40" stroke="#000" stroke-width="2.6"/>
<line x1="356.10" y1="452.50" x2="356.10" y2="609.00" stroke="#000" stroke-width="3.0"/>
</svg>
</body></html>
